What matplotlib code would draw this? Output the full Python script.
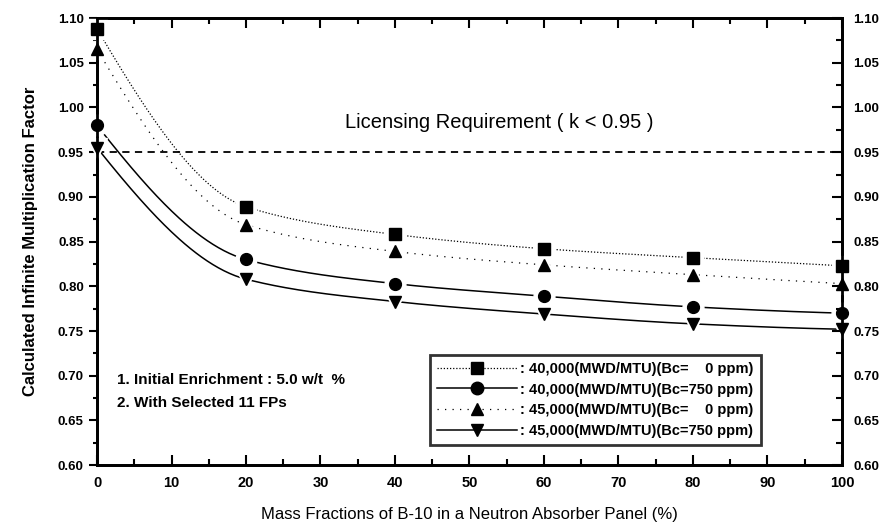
import numpy as np
import matplotlib
matplotlib.use("Agg")
import matplotlib.pyplot as plt
from matplotlib.lines import Line2D
from matplotlib.ticker import MultipleLocator

plt.rcParams['font.family'] = ['Liberation Sans', 'DejaVu Sans']

# mass fraction of B-10 (%)
b10 = [0, 20, 40, 60, 80, 100]

# calculated k-inf values
k_40_0 = [1.088, 0.889, 0.858, 0.842, 0.832, 0.823]
k_40_750 = [0.980, 0.830, 0.803, 0.789, 0.777, 0.770]
k_45_0 = [1.065, 0.869, 0.839, 0.824, 0.813, 0.803]
k_45_750 = [0.955, 0.808, 0.783, 0.769, 0.758, 0.752]

labels = [": 40,000(MWD/MTU)(Bc=    0 ppm)",
          ": 40,000(MWD/MTU)(Bc=750 ppm)",
          ": 45,000(MWD/MTU)(Bc=    0 ppm)",
          ": 45,000(MWD/MTU)(Bc=750 ppm)"]

limit_k = 0.95


def pchip(x, y, xn):
    # monotone cubic curve through the points (Fritsch-Carlson)
    x = np.asarray(x, float)
    y = np.asarray(y, float)
    h = np.diff(x)
    d = np.diff(y) / h
    m = np.zeros_like(y)
    for i in range(1, len(x) - 1):
        if d[i - 1] * d[i] > 0:
            w1 = 2 * h[i] + h[i - 1]
            w2 = h[i] + 2 * h[i - 1]
            m[i] = (w1 + w2) / (w1 / d[i - 1] + w2 / d[i])
    m[0] = ((2 * h[0] + h[1]) * d[0] - h[0] * d[1]) / (h[0] + h[1])
    if np.sign(m[0]) != np.sign(d[0]):
        m[0] = 0
    m[-1] = ((2 * h[-1] + h[-2]) * d[-1] - h[-1] * d[-2]) / (h[-1] + h[-2])
    if np.sign(m[-1]) != np.sign(d[-1]):
        m[-1] = 0
    idx = np.clip(np.searchsorted(x, xn) - 1, 0, len(x) - 2)
    t = (xn - x[idx]) / h[idx]
    h00 = 2 * t**3 - 3 * t**2 + 1
    h10 = t**3 - 2 * t**2 + t
    h01 = -2 * t**3 + 3 * t**2
    h11 = t**3 - t**2
    return (h00 * y[idx] + h10 * h[idx] * m[idx]
            + h01 * y[idx + 1] + h11 * h[idx] * m[idx + 1])


fig = plt.figure(figsize=(8.9, 5.31), dpi=100)
ax = fig.add_axes([0.109, 0.124, 0.837, 0.842])

series = [
    (k_40_0, 's', (0, (1, 1.5)), 0.9),
    (k_40_750, 'o', '-', 1.1),
    (k_45_0, '^', (0, (1, 5)), 0.9),
    (k_45_750, 'v', '-', 1.1),
]

xs = np.linspace(0, 100, 400)
for vals, mk, ls, lw in series:
    ax.plot(xs, pchip(b10, vals, xs), color='black', ls=ls, lw=lw, zorder=3)
    # white halo leaves the gap round each marker
    ax.plot(b10, vals, ls='none', marker=mk, ms=15, color='white',
            zorder=4, clip_on=False)
    ax.plot(b10, vals, ls='none', marker=mk, ms=8.5, color='black',
            zorder=5, clip_on=False)

ax.axhline(limit_k, color='black', ls=(0, (4, 3)), lw=1.3, zorder=2)
ax.text(54, 0.973, "Licensing Requirement ( k < 0.95 )", ha='center',
        va='bottom', fontsize=14.5)

ax.text(2.7, 0.695, "1. Initial Enrichment : 5.0 w/t  %", fontsize=11,
        fontweight='bold', va='center')
ax.text(2.7, 0.670, "2. With Selected 11 FPs", fontsize=11,
        fontweight='bold', va='center')

ax.set_xlim(0, 100)
ax.set_ylim(0.60, 1.10)
ax.xaxis.set_major_locator(MultipleLocator(10))
ax.xaxis.set_minor_locator(MultipleLocator(5))
ax.yaxis.set_major_locator(MultipleLocator(0.05))
ax.yaxis.set_minor_locator(MultipleLocator(0.025))
ax.yaxis.set_major_formatter(plt.FormatStrFormatter('%.2f'))
ax.tick_params(axis='x', which='both', direction='in', top=True,
               labelsize=10.5, width=1.5, pad=8)
ax.tick_params(axis='x', which='major', length=7)
ax.tick_params(axis='x', which='minor', length=4)
ax.tick_params(axis='y', which='both', direction='out', labelsize=9.5,
               width=1.5)
ax.tick_params(axis='y', which='major', length=6)
ax.tick_params(axis='y', which='minor', length=3)
for t in ax.get_xticklabels() + ax.get_yticklabels():
    t.set_fontweight('bold')
for s in ax.spines.values():
    s.set_linewidth(2)

ax2 = ax.twinx()
ax2.set_ylim(ax.get_ylim())
ax2.yaxis.set_major_locator(MultipleLocator(0.05))
ax2.yaxis.set_minor_locator(MultipleLocator(0.025))
ax2.yaxis.set_major_formatter(plt.FormatStrFormatter('%.2f'))
ax2.tick_params(axis='y', which='both', direction='in', labelsize=9.5,
                width=1.5, pad=8)
ax2.tick_params(axis='y', which='major', length=7)
ax2.tick_params(axis='y', which='minor', length=4)
for t in ax2.get_yticklabels():
    t.set_fontweight('bold')
for s in ax2.spines.values():
    s.set_linewidth(2)

ax.set_xlabel("Mass Fractions of B-10 in a Neutron Absorber Panel (%)",
              fontsize=12, labelpad=12)
ax.set_ylabel("Calculated Infinite Multiplication Factor", fontsize=12,
              fontweight='bold', labelpad=14)

handles = [Line2D([0], [0], color='black', ls=ls, lw=lw, marker=mk, ms=9)
           for _, mk, ls, lw in series]
leg = ax.legend(handles, labels, loc='upper left',
                bbox_to_anchor=(0.447, 0.247), fontsize=10.5, frameon=True,
                fancybox=False, edgecolor='black', handlelength=5.5,
                handletextpad=0.2, borderpad=0.5, labelspacing=0.45,
                borderaxespad=0)
leg.get_frame().set_linewidth(2)
for t in leg.get_texts():
    t.set_fontweight('bold')

fig.savefig("out.png", dpi=100)
